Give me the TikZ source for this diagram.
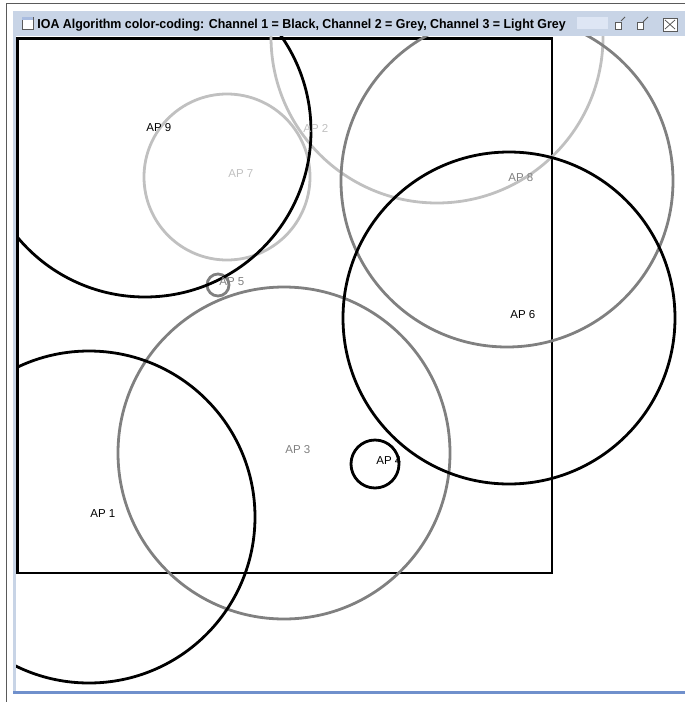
\documentclass[tikz,border=0pt]{standalone}
\usepackage{fontspec}
\setmainfont{Liberation Sans}
\usepackage{graphicx}
\usepackage{tikz}
\usetikzlibrary{positioning}
\definecolor{chanone}{RGB}{0,0,0}
\definecolor{chantwo}{RGB}{128,128,128}
\definecolor{chanthree}{RGB}{192,192,192}
\definecolor{barblue}{RGB}{200,212,230}
\definecolor{dotblue}{RGB}{222,230,244}
\definecolor{edgeblue}{RGB}{112,144,204}
\definecolor{framegray}{RGB}{90,90,90}

\begin{document}
\begin{tikzpicture}[x=1pt, y=-1pt, line width=2.8pt,
    aplabel/.style={anchor=base west, inner sep=0pt, font=\fontsize{11.5}{13}\selectfont},
    iconbox/.style={draw=framegray, line width=0.8pt}]
    \useasboundingbox (0,0) rectangle (685,702);
    % window frame
    \draw[framegray, line width=0.8pt] (6,702) -- (6,3) -- (685,3);
    \fill[barblue] (13,11) rectangle (685,36);
    \fill[barblue] (13,36) rectangle (16,692);
    \fill[edgeblue] (13,691) rectangle (685,694);
    \node[anchor=base west, inner sep=0pt, font=\bfseries\fontsize{13}{15}\selectfont] (title) at (36,28.5)
        {\scalebox{0.955}[1]{IOA Algorithm color-coding: Channel 1 = Black, Channel 2 = Grey, Channel 3 = Light Grey}};
    % title icons
    \draw[iconbox, fill=white] (22,17) rectangle (33,29);
    \fill[edgeblue!60] (22.4,17.4) rectangle (32.6,20);
    \fill[dotblue] (577,17) rectangle (608,29);
    \draw[iconbox, fill=white] (615,22) rectangle (621,29);
    \draw[framegray, line width=0.8pt] (625,17) -- (621,21);
    \draw[iconbox, fill=white] (637,22) rectangle (643,29);
    \draw[framegray, line width=0.8pt] (643,22) -- (648,17);
    \draw[iconbox, fill=white] (663,18) rectangle (677,31);
    \draw[framegray, line width=0.8pt] (665,20) -- (675,29) (675,20) -- (665,29);

    % access points
    \coordinate (ap1) at (89,517);
    \coordinate (ap2) at (302,132);
    \coordinate (ap3) at (284,453);
    \coordinate (ap4) at (375,464);
    \coordinate (ap5) at (218,285);
    \coordinate (ap6) at (509,318);
    \coordinate (ap7) at (227,177);
    \coordinate (ap8) at (507,181);
    \coordinate (ap9) at (145,131);
    \coordinate (aptop) at (437,37);

    \begin{scope}
        \clip (16,36) rectangle (685,691);
        \draw[chanone] (17.5,38.5) rectangle (552,573);
        \draw[chanthree] (aptop) circle[radius=166];
        \draw[chanthree] (ap7) circle[radius=83];
        \draw[chantwo] (ap8) circle[radius=166];
        \draw[chantwo] (ap3) circle[radius=166];
        \draw[chantwo] (ap5) circle[radius=11];
        \draw[chanone] (ap9) circle[radius=166];
        \draw[chanone] (ap6) circle[radius=166];
        \draw[chanone] (ap1) circle[radius=166];
        \draw[chanone] (ap4) circle[radius=24];
    \end{scope}

    \node[aplabel, text=chanone] (lblone) at (ap1) {AP 1};
    \node[aplabel, text=chanthree] (lbltwo) at (ap2) {AP 2};
    \node[aplabel, text=chantwo] (lblthree) at (ap3) {AP 3};
    \node[aplabel, text=chanone] (lblfour) at (ap4) {AP 4};
    \node[aplabel, text=chantwo] (lblfive) at (ap5) {AP 5};
    \node[aplabel, text=chanone] (lblsix) at (ap6) {AP 6};
    \node[aplabel, text=chanthree] (lblseven) at (ap7) {AP 7};
    \node[aplabel, text=chantwo] (lbleight) at (ap8) {AP 8};
    \node[aplabel, text=chanone] (lblnine) at (ap9) {AP 9};
\end{tikzpicture}
\end{document}
